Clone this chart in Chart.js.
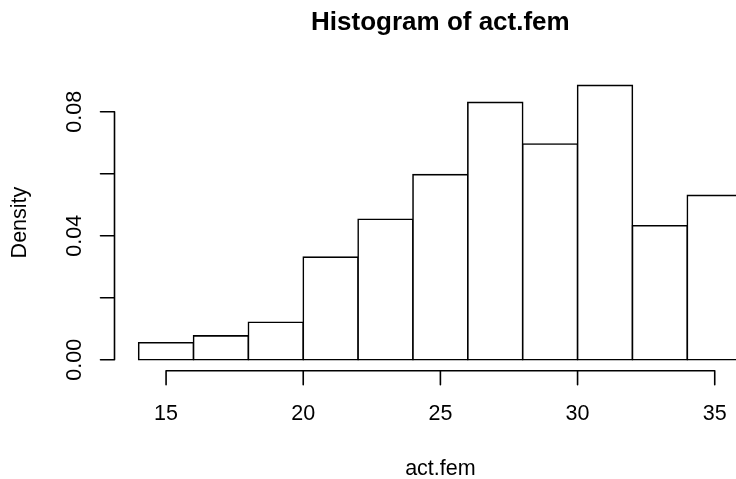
<!DOCTYPE html>
<html><head><meta charset="utf-8">
<script src="https://cdn.jsdelivr.net/npm/chart.js@4/dist/chart.umd.min.js"></script>
<style>
html,body{margin:0;padding:0;overflow:hidden;background:#fff;width:736px;height:479px}
#wrap{position:absolute;left:0;top:0;width:800px;height:479px}
</style>
</head><body><div id="wrap"><canvas id="c" width="800" height="479"></canvas></div>
<script>
// ---- data ----
const titleText = 'Histogram of act.fem';
const xLabel = 'act.fem';
const yLabel = 'Density';
const breaks = [14, 16, 18, 20, 22, 24, 26, 28, 30, 32, 34, 36];
const density = [0.0055, 0.0077, 0.0121, 0.0331, 0.0453, 0.0597, 0.0830, 0.0696, 0.0885, 0.0432, 0.0530];
const xTicks = [15, 20, 25, 30, 35];
const xTickLabels = ['15', '20', '25', '30', '35'];
const yTicks = [0, 0.02, 0.04, 0.06, 0.08];
const yTickLabels = ['0.00', '', '0.04', '', '0.08'];

// ---- build ----
const mids = density.map((_, i) => (breaks[i] + breaks[i + 1]) / 2);
const points = density.map((d, i) => ({ x: mids[i], y: d }));
const xR = breaks[breaks.length - 1] - breaks[0];
const xMin = breaks[0] - 0.04 * xR, xMax = breaks[breaks.length - 1] + 0.04 * xR;
const yMaxD = Math.max(...density);
const yMin = -0.04 * yMaxD, yMax = yMaxD * 1.04;

const LW = 1.6;
const FONT = '"Liberation Sans", Arial, Helvetica, sans-serif';
const AX = 21.5;

const rAxes = {
  id: 'rAxes',
  beforeDraw(chart) {
    const c = chart.ctx;
    c.save();
    c.fillStyle = '#fff';
    c.fillRect(0, 0, chart.width, chart.height);
    c.restore();
  },
  afterDraw(chart) {
    const c = chart.ctx, a = chart.chartArea;
    const xs = chart.scales.x, ys = chart.scales.y;
    c.save();
    c.strokeStyle = '#000';
    c.fillStyle = '#000';
    c.lineWidth = LW;
    c.lineCap = 'round';
    // y axis
    const ax = a.left;
    c.beginPath();
    c.moveTo(ax, ys.getPixelForValue(yTicks[0]));
    c.lineTo(ax, ys.getPixelForValue(yTicks[yTicks.length - 1]));
    yTicks.forEach(v => {
      const p = ys.getPixelForValue(v);
      c.moveTo(ax, p); c.lineTo(ax - 14, p);
    });
    c.stroke();
    c.font = AX + 'px ' + FONT;
    c.textAlign = 'center';
    c.textBaseline = 'alphabetic';
    yTicks.forEach((v, i) => {
      if (!yTickLabels[i]) return;
      const p = ys.getPixelForValue(v);
      c.save(); c.translate(ax - 33.3, p); c.rotate(-Math.PI / 2);
      c.fillText(yTickLabels[i], 0, 0); c.restore();
    });
    // x axis
    const ay = a.bottom;
    c.beginPath();
    c.moveTo(xs.getPixelForValue(xTicks[0]), ay);
    c.lineTo(xs.getPixelForValue(xTicks[xTicks.length - 1]), ay);
    xTicks.forEach(v => {
      const p = xs.getPixelForValue(v);
      c.moveTo(p, ay); c.lineTo(p, ay + 14);
    });
    c.stroke();
    xTicks.forEach((v, i) => {
      c.fillText(xTickLabels[i], xs.getPixelForValue(v), 420);
    });
    // axis titles
    const cx = (a.left + a.right) / 2, cy = (a.top + a.bottom) / 2;
    c.fillText(xLabel, cx, 475);
    c.save(); c.translate(26, cy); c.rotate(-Math.PI / 2);
    c.fillText(yLabel, 0, 0); c.restore();
    // main title
    c.font = 'bold 26px ' + FONT;
    c.fillText(titleText, cx, 30);
    c.restore();
  }
};

new Chart(document.getElementById('c'), {
  type: 'bar',
  data: {
    datasets: [{
      data: points,
      backgroundColor: '#ffffff',
      borderColor: '#000000',
      borderWidth: LW,
      borderSkipped: false,
      inflateAmount: LW / 2,
      barPercentage: 1,
      categoryPercentage: 1
    }]
  },
  options: {
    responsive: false,
    animation: false,
    devicePixelRatio: 1,
    layout: { padding: { left: 114.5, right: 33.7, top: 74.4, bottom: 108.3 } },
    plugins: { legend: { display: false }, tooltip: { enabled: false }, title: { display: false } },
    scales: {
      x: {
        type: 'linear', display: false, offset: false, min: xMin, max: xMax,
        afterBuildTicks: s => { s.ticks = xTicks.map(v => ({ value: v })); }
      },
      y: {
        type: 'linear', display: false, min: yMin, max: yMax,
        afterBuildTicks: s => { s.ticks = yTicks.map(v => ({ value: v })); }
      }
    }
  },
  plugins: [rAxes]
});
</script>
</body></html>
